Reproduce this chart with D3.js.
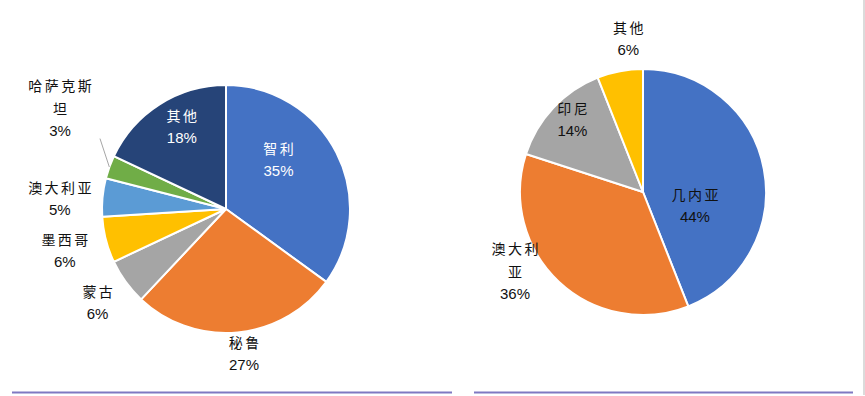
<!DOCTYPE html>
<html>
<head>
<meta charset="utf-8">
<script src="https://cdn.jsdelivr.net/npm/d3@7"></script>
<style>
  body { margin: 0; background: #fff; }
  svg { display: block; }
</style>
</head>
<body>
<svg id="chart" width="865" height="396"></svg>
<script>
// left pie: copper producers
const leftNames = [["智利"], ["秘鲁"], ["蒙古"], ["墨西哥"], ["澳大利亚"], ["哈萨克斯", "坦"], ["其他"]];
const leftValues = [35, 27, 6, 6, 5, 3, 18];
const leftColors = ["#4472C4", "#ED7D31", "#A5A5A5", "#FFC000", "#5B9BD5", "#70AD47", "#264478"];

// right pie: bauxite producers
const rightNames = [["几内亚"], ["澳大利", "亚"], ["印尼"], ["其他"]];
const rightValues = [44, 36, 14, 6];
const rightColors = ["#4472C4", "#ED7D31", "#A5A5A5", "#FFC000"];

const svg = d3.select("#chart");

// frame bits
svg.append("line").attr("x1", 864).attr("x2", 864).attr("y1", 0).attr("y2", 395)
  .attr("stroke", "#cfcfcf").attr("stroke-width", 1.5);
svg.append("line").attr("x1", 12).attr("x2", 452).attr("y1", 392.5).attr("y2", 392.5)
  .attr("stroke", "#7f78c2").attr("stroke-width", 2);
svg.append("line").attr("x1", 474).attr("x2", 853).attr("y1", 392.5).attr("y2", 392.5)
  .attr("stroke", "#7f78c2").attr("stroke-width", 2);

// label layout: inside or outside, nudge from centroid, text colour
const drawPie = (cfg) => {
  const g = svg.append("g").attr("transform", `translate(${cfg.cx},${cfg.cy})`);
  const pie = d3.pie().sort(null).value(d => d.value);
  const arcs = pie(cfg.names.map((n, i) => ({ name: n, value: cfg.values[i], color: cfg.colors[i], layout: cfg.layout[i] })));

  const arc = d3.arc().innerRadius(0).outerRadius(cfg.r);
  const inArc = d3.arc().innerRadius(cfg.r * 0.62).outerRadius(cfg.r * 0.62);
  const outArc = d3.arc().innerRadius(cfg.r * 1.2).outerRadius(cfg.r * 1.2);
  const edgeArc = d3.arc().innerRadius(cfg.r).outerRadius(cfg.r);

  g.selectAll("path.slice")
    .data(arcs)
    .enter()
    .append("path")
    .attr("class", "slice")
    .attr("d", arc)
    .attr("fill", d => d.data.color)
    .attr("stroke", "#fff")
    .attr("stroke-width", 2)
    .attr("stroke-linejoin", "round");

  const lineH = 22.5;
  arcs.forEach(d => {
    const lay = d.data.layout;
    const base = lay.inside ? inArc.centroid(d) : outArc.centroid(d);
    const x = base[0] + lay.dx, y = base[1] + lay.dy;
    const lines = d.data.name.concat([d.data.value + "%"]);
    const top = y - (lines.length - 1) * lineH / 2;

    if (lay.leader) {
      const e = edgeArc.centroid(d);
      g.append("line")
        .attr("x1", e[0]).attr("y1", e[1])
        .attr("x2", x + lay.leader[0]).attr("y2", y + lay.leader[1])
        .attr("stroke", "#a6a6a6").attr("stroke-width", 1);
    }

    lines.forEach((t, i) => {
      const isPct = i === lines.length - 1;
      g.append("text")
        .attr("x", isPct ? x : x + 1.25)
        .attr("y", top + i * lineH)
        .attr("text-anchor", "middle")
        .attr("dominant-baseline", "central")
        .style("font-family", isPct ? "'Liberation Sans Narrow', 'Liberation Sans', Arial, sans-serif" : "'Noto Sans CJK SC', sans-serif")
        .style("font-size", isPct ? "15px" : "14px")
        .style("letter-spacing", isPct ? "0px" : "2.5px")
        .style("fill", lay.color)
        .text(t);
    });
  });
};

drawPie({
  cx: 226, cy: 209, r: 124,
  names: leftNames, values: leftValues, colors: leftColors,
  layout: [
    { inside: true, dx: -16, dy: -15, color: "#ffffff" },
    { inside: false, dx: 4, dy: -4, color: "#111" },
    { inside: false, dx: -8, dy: 6, color: "#111" },
    { inside: false, dx: -17, dy: 4, color: "#111" },
    { inside: false, dx: -18, dy: 3, color: "#111" },
    { inside: false, dx: -26, dy: -51, color: "#111", leader: [40, 31] },
    { inside: true, dx: -3, dy: -18, color: "#ffffff" }
  ]
});

drawPie({
  cx: 643, cy: 192, r: 123,
  names: rightNames, values: rightValues, colors: rightColors,
  layout: [
    { inside: true, dx: -23, dy: 28, color: "#111" },
    { inside: false, dx: -27, dy: -29, color: "#111" },
    { inside: true, dx: -15, dy: -21, color: "#111" },
    { inside: false, dx: 13, dy: -9, color: "#111" }
  ]
});
</script>
</body>
</html>
